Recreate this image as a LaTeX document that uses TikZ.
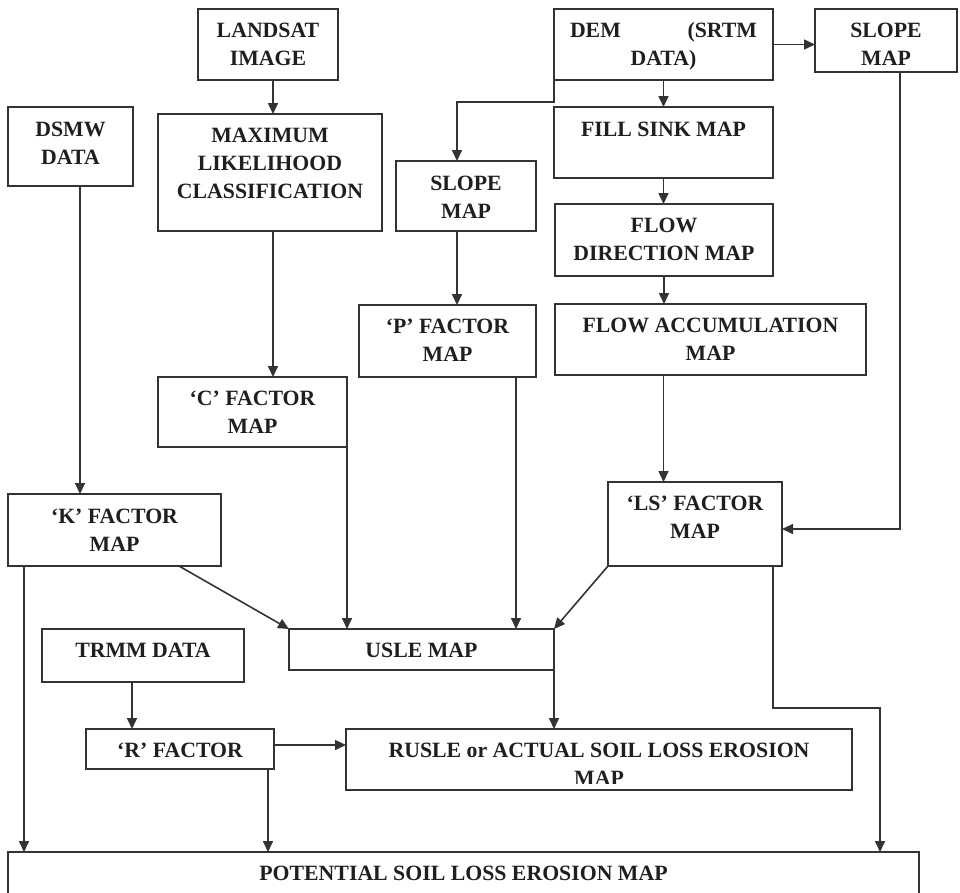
\documentclass[tikz,border=0pt]{standalone}
\usepackage{fontspec}
\setmainfont{Liberation Serif}
\usetikzlibrary{arrows.meta}
\setlength{\parskip}{0pt}
\tikzset{
  boxst/.style={draw=black!80, line width=1.4pt, inner sep=0pt, outer sep=0pt,
    anchor=north west, font=\bfseries\fontsize{21.8}{28}\selectfont, text=black!88},
  txtst/.style={inner sep=0pt, outer sep=0pt, font=\bfseries\fontsize{21.8}{28}\selectfont, text=black!88},
  arr/.style={draw=black!80, line width=1.6pt, -{Triangle[length=11pt,width=10pt]}},
  thinarr/.style={arr, line width=1.2pt},
}
\newcommand\mybox[7]{\node[boxst] (#1) at (#2,#3) {\parbox[c][#5pt][t]{#4pt}{\centering\vspace*{#6pt}#7\par}};}
\begin{document}
\begin{tikzpicture}[x=1pt,y=-1pt]
\useasboundingbox (0,0) rectangle (960,892);
% boxes
\mybox{landsat}{198}{9}{140}{71}{13.6}{LANDSAT\\IMAGE}
\mybox{dsmw}{8}{107}{125}{79}{14.6}{DSMW\\DATA}
\mybox{maxlik}{158}{114}{224}{117}{14.6}{MAXIMUM\\LIKELIHOOD\\CLASSIFICATION}
\mybox{slopeB}{396}{161}{140}{70}{14.6}{SLOPE\\MAP}
\mybox{dem}{554}{9}{219}{71}{13.4}{\makebox[187pt]{DEM\hfill(SRTM}\\DATA)}
\mybox{slopeA}{815}{9}{142}{63}{13.6}{SLOPE\\MAP}
\mybox{fill}{554}{107}{219}{71}{14.6}{FILL SINK MAP}
\mybox{flowdir}{555}{204}{218}{72}{13.6}{FLOW\\DIRECTION MAP}
\mybox{pfac}{359}{305}{177}{72}{13.6}{‘P’ FACTOR\\MAP}
\mybox{flowacc}{555}{304}{311}{71}{13.6}{FLOW ACCUMULATION\\MAP}
\mybox{cfac}{158}{377}{189}{70}{13.6}{‘C’ FACTOR\\MAP}
\mybox{kfac}{8}{494}{213}{72}{14.6}{‘K’ FACTOR\\MAP}
\mybox{lsfac}{608}{482}{174}{84}{13.6}{‘LS’ FACTOR\\MAP}
\mybox{usle}{289}{629}{265}{41}{13.6}{USLE MAP}
\mybox{trmm}{42}{629}{202}{53}{13.6}{TRMM DATA}
\mybox{rfac}{86}{729}{188}{40}{13.6}{‘R’ FACTOR}
\mybox{rusle}{346}{729}{506}{61}{13.6}{RUSLE or ACTUAL SOIL LOSS EROSION}
\mybox{potential}{8}{852}{911}{46}{13.6}{POTENTIAL SOIL LOSS EROSION MAP}
\begin{scope}
  \clip (346,729) rectangle (852,783);
  \node[txtst, anchor=base] (rusleMap) at (599,785) {MAP};
\end{scope}
% helper coordinates
\coordinate (xA) at (273,0);
\coordinate (xB) at (80,0);
\coordinate (j1) at (457,102);
\coordinate (j2) at (900,529);
\coordinate (xF) at (516,0);
\coordinate (xG) at (179,0);
\coordinate (xH) at (24,0);
\coordinate (xT) at (132,0);
\coordinate (y745) at (0,745);
\coordinate (xR) at (268,0);
\coordinate (j4) at (773,708);
\coordinate (j5) at (880,708);
% connectors
\draw[arr] (landsat.south -| xA) -- (maxlik.north -| xA);
\draw[arr] (dsmw.south -| xB) -- (kfac.north -| xB);
\draw[arr] (maxlik.south -| xA) -- (cfac.north -| xA);
\draw[arr] (dem.south west) |- (j1) -- (slopeB.north -| j1);
\draw[arr] (dem.south) -- (dem.south |- fill.north);
\draw[arr] (dem.east) -- (dem.east -| slopeA.west);
\draw[arr] (fill.south) -- (fill.south |- flowdir.north);
\draw[arr] (flowdir.south) -- (flowdir.south |- flowacc.north);
\draw[arr] (slopeB.south -| j1) -- (pfac.north -| j1);
\draw[arr] (flowacc.south -| fill.south) -- (lsfac.north -| fill.south);
\draw[thinarr] (slopeA.south -| j2) -- (j2) -- (lsfac.east |- j2);
\draw[arr] (cfac.south east) -- (cfac.south east |- usle.north);
\draw[arr] (pfac.south -| xF) -- (usle.north -| xF);
\draw[arr] (kfac.south -| xG) -- (usle.north west);
\draw[arr] (lsfac.south west) -- (usle.north east);
\draw[arr] (kfac.south -| xH) -- (potential.north -| xH);
\draw[arr] (trmm.south -| xT) -- (rfac.north -| xT);
\draw[arr] (rfac.east |- y745) -- (rusle.west |- y745);
\draw[arr] (rfac.south -| xR) -- (potential.north -| xR);
\draw[arr] (usle.south east) -- (usle.south east |- rusle.north);
\draw[arr] (lsfac.south -| j4) -- (j4) -- (j5) -- (potential.north -| j5);
\end{tikzpicture}
\end{document}
